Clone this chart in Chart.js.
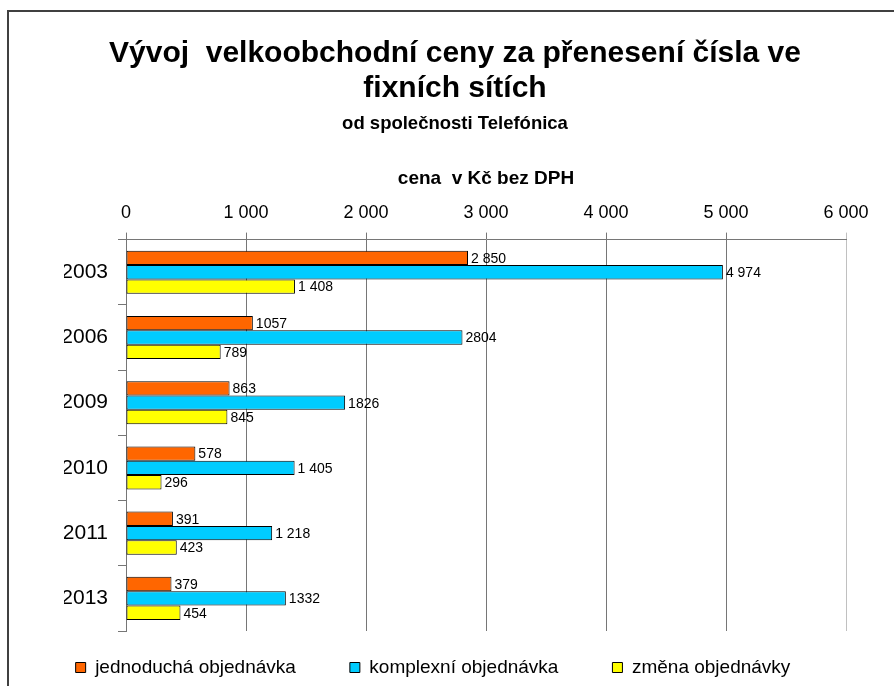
<!DOCTYPE html>
<html>
<head>
<meta charset="utf-8">
<script src="https://cdn.jsdelivr.net/npm/chart.js@4.4.1/dist/chart.umd.min.js"></script>
<style>
  html, body { margin: 0; padding: 0; background: #ffffff; }
  #wrap { position: relative; width: 894px; height: 686px; overflow: hidden; }
  #c { position: absolute; left: 0; top: 0; }
  #frame { position: absolute; left: 7px; top: 10px; width: 1000px; height: 1000px;
           border-left: 2px solid #404040; border-top: 2px solid #404040; pointer-events: none; }
</style>
</head>
<body>
<div id="wrap">
  <canvas id="c" width="894" height="686"></canvas>
  <div id="frame"></div>
</div>
<script>
const categories = ['2003', '2006', '2009', '2010', '2011', '2013'];
const seriesNames = ['jednoduchá objednávka', 'komplexní objednávka', 'změna objednávky'];
const jednoducha = [2850, 1057, 863, 578, 391, 379];
const komplexni = [4974, 2804, 1826, 1405, 1218, 1332];
const zmena = [1408, 789, 845, 296, 423, 454];
const jednoduchaLabels = ['2 850', '1057', '863', '578', '391', '379'];
const komplexniLabels = ['4 974', '2804', '1826', '1 405', '1 218', '1332'];
const zmenaLabels = ['1 408', '789', '845', '296', '423', '454'];
const tickLabels = ['0', '1 000', '2 000', '3 000', '4 000', '5 000', '6 000'];
const titleLines = ['Vývoj  velkoobchodní ceny za přenesení čísla ve', 'fixních sítích'];
const subtitleText = 'od společnosti Telefónica';
const axisTitle = 'cena  v Kč bez DPH';

const FONT = "'Liberation Sans', Arial, sans-serif";
const valueLabels = [jednoduchaLabels, komplexniLabels, zmenaLabels];

const dataLabelPlugin = {
  id: 'dataLabels',
  afterDatasetsDraw(chart) {
    const ctx = chart.ctx;
    ctx.save();
    ctx.font = '14px ' + FONT;
    ctx.fillStyle = '#000000';
    ctx.textAlign = 'left';
    ctx.textBaseline = 'middle';
    chart.data.datasets.forEach((ds, di) => {
      const meta = chart.getDatasetMeta(di);
      meta.data.forEach((el, i) => {
        ctx.fillText(valueLabels[di][i], el.x + 3, el.y + 1);
      });
    });
    ctx.restore();
  }
};

// keep the legend on one row, placed low and centred like the reference
const legendPlace = {
  id: 'legendPlace',
  afterLayout(chart) {
    const lg = chart.legend;
    if (!lg) return;
    lg.maxWidth = 2000;
    lg.fit();
    lg.top = 604; lg.bottom = 686;
    lg.left = 0; lg.right = 866;
    lg.width = 866; lg.height = 82;
  }
};

new Chart(document.getElementById('c'), {
  type: 'bar',
  data: {
    labels: categories,
    datasets: [
      { label: seriesNames[0], data: jednoducha, backgroundColor: '#FF6600', borderColor: '#000000', borderWidth: 1, borderSkipped: false },
      { label: seriesNames[1], data: komplexni, backgroundColor: '#00CCFF', borderColor: '#000000', borderWidth: 1, borderSkipped: false },
      { label: seriesNames[2], data: zmena, backgroundColor: '#FFFF00', borderColor: '#000000', borderWidth: 1, borderSkipped: false }
    ]
  },
  options: {
    indexAxis: 'y',
    responsive: false,
    animation: false,
    devicePixelRatio: 1,
    categoryPercentage: 0.66,
    barPercentage: 1.0,
    layout: { padding: { left: 64, right: 48, top: 0, bottom: 0 } },
    scales: {
      x: {
        position: 'top',
        min: 0, max: 6000,
        ticks: {
          stepSize: 1000,
          color: '#000000',
          font: { family: FONT, size: 18 },
          padding: 9,
          callback: (v, i) => tickLabels[i]
        },
        grid: {
          color: (c) => (c.tick && c.tick.value === 6000) ? '#c0c0c0' : '#767676',
          lineWidth: 1,
          tickLength: 7,
          drawOnChartArea: true
        },
        border: { color: '#767676', width: 1 },
        title: {
          display: true,
          text: axisTitle,
          color: '#000000',
          font: { family: FONT, size: 19, weight: 'bold', lineHeight: 1.2 },
          padding: { top: 0, bottom: 2.6 }
        }
      },
      y: {
        offset: true,
        ticks: {
          color: '#000000',
          font: { family: FONT, size: 21 },
          padding: 10
        },
        grid: {
          offset: true,
          drawOnChartArea: false,
          color: '#767676',
          tickLength: 8
        },
        border: { color: '#767676', width: 1 },
        afterFit(scale) { scale.width = 62; }
      }
    },
    plugins: {
      title: {
        display: true,
        text: titleLines,
        color: '#000000',
        font: { family: FONT, size: 30, weight: 'bold', lineHeight: 1.1667 },
        padding: { top: 36, bottom: 0 }
      },
      subtitle: {
        display: true,
        text: subtitleText,
        color: '#000000',
        font: { family: FONT, size: 18.5, weight: 'bold', lineHeight: 1.2 },
        padding: { top: 7, bottom: 32.4 }
      },
      legend: {
        position: 'bottom',
        maxHeight: 55,
        labels: {
          color: '#000000',
          font: { family: FONT, size: 19 },
          boxWidth: 10,
          boxHeight: 10,
          padding: 54
        }
      },
      tooltip: { enabled: false }
    }
  },
  plugins: [dataLabelPlugin, legendPlace]
});
</script>
</body>
</html>
